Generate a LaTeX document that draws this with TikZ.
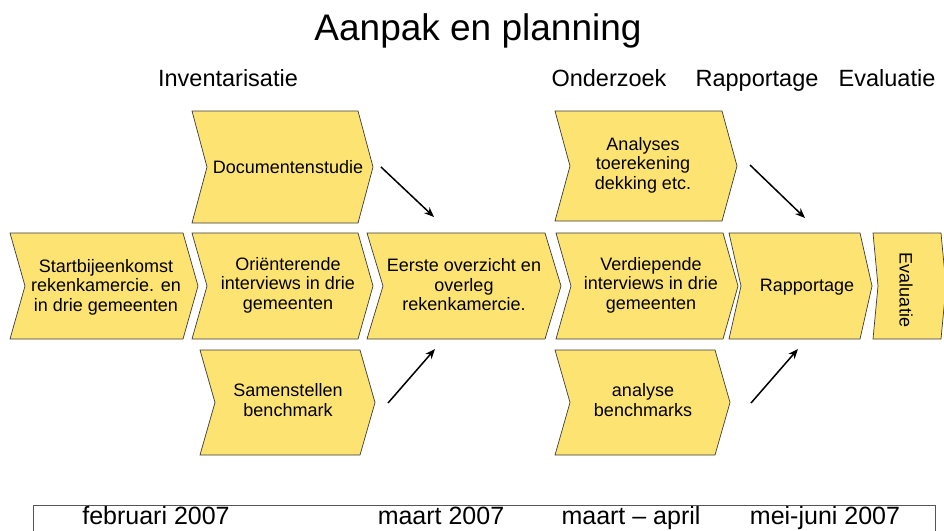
\documentclass[tikz,border=0pt]{standalone}
\usepackage{fontspec}
\setmainfont{Liberation Sans}
\usetikzlibrary{arrows.meta}
\definecolor{chevfill}{HTML}{FDE472}
\definecolor{chevline}{HTML}{3A3A3A}
\definecolor{barline}{HTML}{555555}
\tikzset{
 chev/.style={fill=chevfill, draw=chevline, line width=0.7pt, line join=miter},
 lbl/.style={align=center, font=\fontsize{18}{19.5}\selectfont, inner sep=0pt},
 head/.style={font=\fontsize{23.5}{26}\selectfont, anchor=base, inner sep=0pt},
 datelbl/.style={font=\fontsize{25}{27}\selectfont, anchor=base, inner sep=0pt},
 flow/.style={-{Stealth[length=10pt,width=8pt]}, line width=1.5pt},
}
% xl, xr, depth, ytop, ybottom
\newcommand\mychev[5]{%
  \draw[chev] (#1,#4) -- (#2,#4) -- ({#2+#3},{(#4+#5)/2}) -- (#2,#5) -- (#1,#5) -- ({#1+#3},{(#4+#5)/2}) -- cycle;}
\begin{document}
\begin{tikzpicture}[x=1pt,y=-1pt]
\useasboundingbox (0,0) rectangle (944,530);
% title and headings
\node[font=\fontsize{37}{40}\selectfont, anchor=base, inner sep=0pt] (title) at (478,40) {Aanpak en planning};
\node[head] (hinv) at (228,86) {Inventarisatie};
\node[head] (hond) at (609,86) {Onderzoek};
\node[head] (hrap) at (757,86) {Rapportage};
\node[head] (heva) at (887,86) {Evaluatie};
% top row
\mychev{192}{358}{15}{111}{223}
\mychev{555}{722}{15}{111}{221}
% main row
\mychev{10}{183}{15}{233}{339}
\mychev{192}{358}{15}{233}{339}
\mychev{367}{545}{16}{233}{339}
\mychev{556}{723}{15}{233}{339}
\mychev{729}{860}{12}{233}{339}
\mychev{873}{941}{5}{233}{339}
% bottom row
\mychev{200}{360}{15}{350}{455}
\mychev{555}{715}{15}{350}{455}
% labels
\node[lbl] (doc) at (288,167) {Documentenstudie};
\node[lbl] (ana) at (643,165) {Analyses\\toerekening\\dekking etc.};
\node[lbl] (start) at (106,287) {Startbijeenkomst\\rekenkamercie. en\\in drie gemeenten};
\node[lbl] (ori) at (288,285) {Oriënterende\\interviews in drie\\gemeenten};
\node[lbl] (eers) at (464,285) {Eerste overzicht en\\overleg\\rekenkamercie.};
\node[lbl] (verd) at (651,285) {Verdiepende\\interviews in drie\\gemeenten};
\node[lbl] (rapp) at (807,287) {Rapportage};
\node[lbl, rotate=-90] (eval) at (906,290) {Evaluatie};
\node[lbl] (sam) at (288,400) {Samenstellen\\benchmark};
\node[lbl] (anb) at (643,400) {analyse\\benchmarks};
% arrows
\coordinate (a1s) at (381,167); \coordinate (a1e) at (434,217);
\coordinate (a2s) at (750,165); \coordinate (a2e) at (805,218);
\coordinate (a3s) at (388,403); \coordinate (a3e) at (435,349);
\coordinate (a4s) at (751,403); \coordinate (a4e) at (798,349);
\draw[flow] (a1s) -- (a1e);
\draw[flow] (a2s) -- (a2e);
\draw[flow] (a3s) -- (a3e);
\draw[flow] (a4s) -- (a4e);
% date bar
\draw[draw=barline, line width=0.8pt] (33,535) -- (33,505) -- (935,505) -- (935,535);
\node[datelbl] (d1) at (156,524) {februari 2007};
\node[datelbl] (d2) at (441,524) {maart 2007};
\node[datelbl] (d3) at (631,524) {maart – april};
\node[datelbl] (d4) at (825,524) {mei-juni 2007};
\end{tikzpicture}
\end{document}
